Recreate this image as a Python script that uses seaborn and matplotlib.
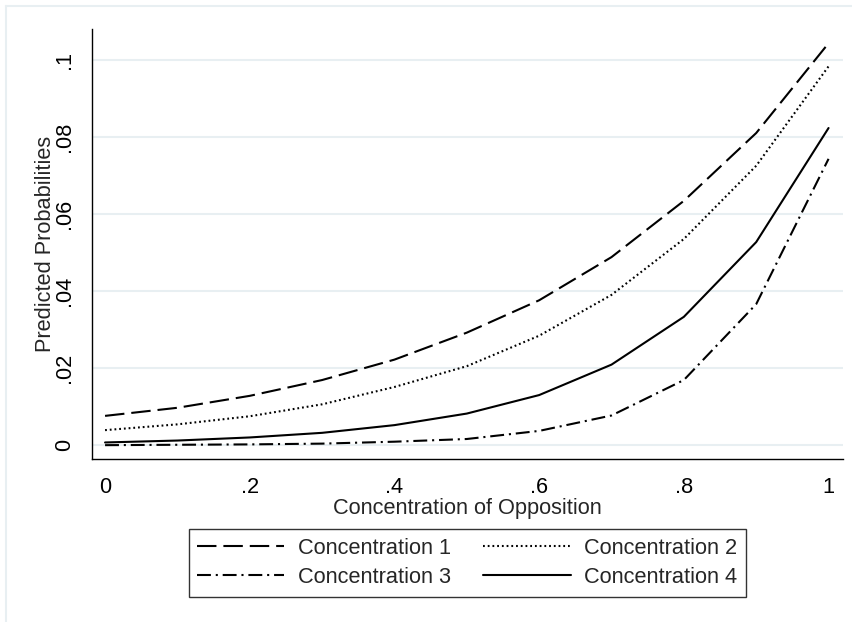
import matplotlib
matplotlib.use("Agg")
import matplotlib.pyplot as plt
import matplotlib.lines as mlines
import pandas as pd
import seaborn as sns

# values
opposition = [0.0, 0.1, 0.2, 0.3, 0.4, 0.5, 0.6, 0.7, 0.8, 0.9, 1.0]
conc1 = [0.0076, 0.0097, 0.0128, 0.0169, 0.0222, 0.0292, 0.0376, 0.0488, 0.0634, 0.0810, 0.1043]
conc2 = [0.0039, 0.0054, 0.0075, 0.0106, 0.0151, 0.0205, 0.0284, 0.0390, 0.0535, 0.0725, 0.0983]
conc3 = [0.0000, 0.0001, 0.0002, 0.0004, 0.0009, 0.0016, 0.0037, 0.0077, 0.0169, 0.0366, 0.0743]
conc4 = [0.0007, 0.0012, 0.0020, 0.0032, 0.0052, 0.0082, 0.0130, 0.0209, 0.0333, 0.0527, 0.0823]
series_names = ["Concentration 1", "Concentration 2", "Concentration 3", "Concentration 4"]

xticks = [0, 0.2, 0.4, 0.6, 0.8, 1.0]
xticklabels = ["0", ".2", ".4", ".6", ".8", "1"]
yticks = [0, 0.02, 0.04, 0.06, 0.08, 0.1]
yticklabels = ["0", ".02", ".04", ".06", ".08", ".1"]

frames = []
for name, vals in zip(series_names, [conc1, conc2, conc3, conc4]):
    frames.append(pd.DataFrame({"opp": opposition, "prob": vals, "series": name}))
data = pd.concat(frames, ignore_index=True)

sns.set_style("white")
plt.rcParams["font.family"] = ["Liberation Sans", "DejaVu Sans"]
plt.rcParams["lines.scale_dashes"] = False

FS = 15.7

fig = plt.figure(figsize=(8.53, 6.22), dpi=100)
ax = fig.add_axes([0.1079, 0.262, 0.8804, 0.6914])

dash_map = {
    "Concentration 1": (14, 5),
    "Concentration 2": (1.3, 2.1),
    "Concentration 3": (10, 3.5, 1.5, 3.5),
    "Concentration 4": "",
}
sns.lineplot(data=data, x="opp", y="prob", style="series", dashes=dash_map,
             color="black", linewidth=1.5, ax=ax, legend=True)

ax.set_xlim(-0.018, 1.02)
ax.set_ylim(-0.0036, 0.108)
ax.set_xticks(xticks)
ax.set_xticklabels(xticklabels)
ax.set_yticks(yticks)
ax.set_yticklabels(yticklabels, rotation=90, va="center")
ax.tick_params(axis="both", direction="out", length=7, width=0.9, color="#333333",
               labelsize=FS, labelcolor="black")
ax.tick_params(axis="x", pad=6)
ax.tick_params(axis="y", pad=5)
ax.yaxis.grid(True, color="#e8eff2", linewidth=1.5)
ax.xaxis.grid(False)
for s in ["top", "right"]:
    ax.spines[s].set_visible(False)
for s in ["left", "bottom"]:
    ax.spines[s].set_color("black")
    ax.spines[s].set_linewidth(1.0)

ax.set_xlabel("Concentration of Opposition", fontsize=FS, labelpad=0)
ax.set_ylabel("Predicted Probabilities", fontsize=FS, labelpad=-1)

# rebuild the legend so it reads row by row: 1, 2 / 3, 4
old = ax.get_legend()
handles = list(old.legend_handles)
labels = [t.get_text() for t in old.get_texts()]
old.remove()
order = [0, 2, 1, 3]
leg = ax.legend([handles[i] for i in order], [labels[i] for i in order],
                loc="upper center", bbox_to_anchor=(0.5475, 1 - 529 / 622),
                bbox_transform=fig.transFigure, ncol=2, borderaxespad=0,
                frameon=True, fancybox=False, edgecolor="black",
                fontsize=FS, handlelength=4.0, handletextpad=0.6,
                columnspacing=1.5, borderpad=0.4, labelspacing=0.38)
leg.get_frame().set_linewidth(1.0)
for h in leg.legend_handles:
    h.set_linewidth(1.5)

# light outer frame, only top and left visible in the original
fig.add_artist(mlines.Line2D([6 / 853, 1], [1 - 6 / 622, 1 - 6 / 622],
                             transform=fig.transFigure, color="#e8eff2", lw=1.5))
fig.add_artist(mlines.Line2D([6 / 853, 6 / 853], [0, 1 - 6 / 622],
                             transform=fig.transFigure, color="#e8eff2", lw=1.5))

fig.savefig("out.png", dpi=100)
